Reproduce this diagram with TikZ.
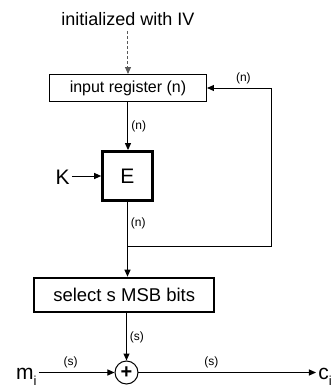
\documentclass[tikz,border=0pt]{standalone}
\usepackage{fontspec}
\setmainfont{Liberation Sans}
\usetikzlibrary{arrows.meta,positioning,calc}
\tikzset{
  regbox/.style={draw, line width=0.5pt, fill=white, inner sep=0pt, minimum width=78.5pt, minimum height=13.5pt, font=\fontsize{8}{9}\selectfont},
  encbox/.style={draw, line width=1.5pt, inner sep=0pt, minimum width=24.8pt, minimum height=24.4pt, font=\fontsize{10.5}{11}\selectfont},
  selbox/.style={draw, line width=1pt, inner sep=0pt, minimum width=89.8pt, minimum height=17.3pt, font=\fontsize{9.25}{10}\selectfont},
  xorc/.style={draw, circle, line width=0.5pt, inner sep=0pt, minimum size=11.5pt, font=\fontsize{10}{10}\selectfont\bfseries},
  note/.style={font=\fontsize{9}{10}\selectfont, inner sep=1pt},
  sym/.style={font=\fontsize{10.5}{11}\selectfont, inner sep=1pt},
  lbl/.style={font=\fontsize{6}{7}\selectfont, inner sep=1pt},
  flow/.style={-{Triangle[length=3.5pt,width=3pt]}, line width=0.5pt},
  ivarrow/.style={flow, gray!70!black, dash pattern=on 1.5pt off 1pt},
}
\newcommand{\sub}[1]{\raisebox{-3pt}{\fontsize{6.5}{7}\selectfont #1}}

\begin{document}
\begin{tikzpicture}[x=0.5pt,y=-0.5pt]
  \useasboundingbox (0,0) rectangle (333,387);
  % blocks
  \node[note] (iv) at (128,19) {initialized with IV};
  \node[regbox] (reg) at (128,88) {input register (n)};
  \node[encbox] (enc) at (127.5,176) {E};
  \node[sym, anchor=east] (k) at (72,177) {K};
  \node[selbox] (sel) at (124.2,295) {select s MSB bits};
  \node[xorc] (xor) at (126.5,372.5) {+};
  \node[sym, anchor=base east] (mi) at (39,379) {m\sub{i}};
  \node[sym, anchor=base west] (ci) at (316,379) {c\sub{i}};
  \coordinate (tap) at (128,246);
  \coordinate (fb) at (272,246);
  % connectors
  \draw[ivarrow] (iv.south) ++(0,3) -- (reg.north);
  \draw[flow] (reg.south) -- node[lbl, right=0.5pt]{(n)} (reg.south |- enc.north);
  \draw[flow] (k.east |- enc.west) -- (enc.west);
  \draw[flow] (enc.south) -- node[lbl, right=0.5pt, pos=0.29]{(n)} (enc.south |- sel.north);
  \draw[flow] (tap) -- (fb) |- node[lbl, above=1pt, pos=0.72]{(n)} (reg.east);
  \draw[flow] (sel.south -| xor) -- node[lbl, right=0.5pt]{(s)} (xor);
  \draw[flow] (mi.east |- xor) -- node[lbl, above=1pt, pos=0.42]{(s)} (xor);
  \draw[flow] (xor) -- node[lbl, above=1pt, pos=0.41]{(s)} (ci.west |- xor);
\end{tikzpicture}
\end{document}
